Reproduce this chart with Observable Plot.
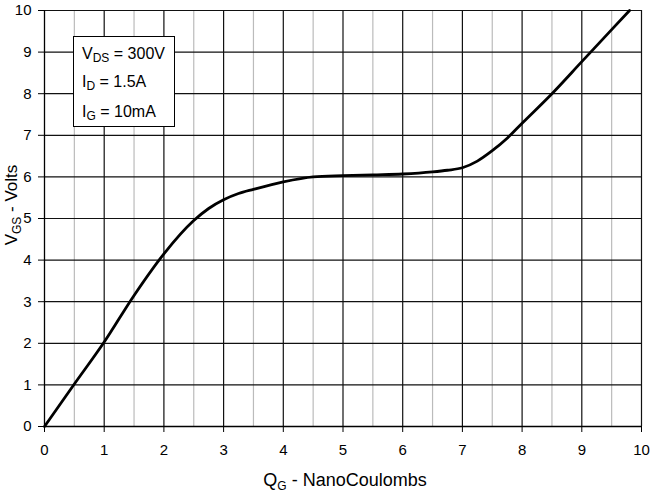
<!DOCTYPE html>
<html>
<head>
<meta charset="utf-8">
<script src="https://cdn.jsdelivr.net/npm/d3@7"></script>
<script src="https://cdn.jsdelivr.net/npm/@observablehq/plot@0.6"></script>
<style>
  html, body { margin: 0; padding: 0; background: #fff; }
  #chart svg { display: block; }
</style>
</head>
<body>
<div id="chart"></div>
<script>
// Data
const qg  = [0, 0.5, 1, 1.5, 2, 2.5, 2.75, 3, 3.25, 3.5, 4, 4.5, 5, 5.5, 6, 6.5, 6.75, 7, 7.25, 7.5, 7.75, 8, 8.5, 9, 9.5, 9.8];
const vgs = [0, 1.02, 2.03, 3.15, 4.15, 4.95, 5.24, 5.45, 5.6, 5.70, 5.88, 6.0, 6.03, 6.05, 6.07, 6.12, 6.16, 6.22, 6.38, 6.63, 6.93, 7.29, 8.0, 8.77, 9.54, 10.0];
const xTicks = [0, 1, 2, 3, 4, 5, 6, 7, 8, 9, 10];
const yTicks = [0, 1, 2, 3, 4, 5, 6, 7, 8, 9, 10];
const xMinor = [0.5, 1.5, 2.5, 3.5, 4.5, 5.5, 6.5, 7.5, 8.5, 9.5];
const legendLines = [
  ["V", "DS", " = 300V"],
  ["I", "D", " = 1.5A"],
  ["I", "G", " = 10mA"]
];

const data = qg.map((q, i) => ({q, v: vgs[i]}));
const FONT = "'Liberation Sans', Arial, Helvetica, sans-serif";

const plot = Plot.plot({
  width: 668,
  height: 493,
  marginLeft: 44,
  marginRight: 27,
  marginTop: 10,
  marginBottom: 67,
  style: {fontFamily: FONT, fontSize: "15px", color: "#000", background: "#fff"},
  x: {domain: [0, 10]},
  y: {domain: [0, 10]},
  marks: [
    Plot.ruleX(xMinor, {stroke: "#bbb", strokeWidth: 1.2}),
    Plot.ruleX(xTicks.filter(d => d > 0), {stroke: "#111", strokeWidth: 1.2}),
    Plot.ruleY(yTicks.filter(d => d > 0), {stroke: "#111", strokeWidth: 1.2}),
    Plot.axisX({ticks: xTicks, tickSize: 6, tickPadding: 12, tickFormat: d => String(d), label: null, stroke: "#000"}),
    Plot.axisY({ticks: yTicks, tickSize: 6, tickPadding: 7, tickFormat: d => String(d), label: null, stroke: "#000"}),
    Plot.ruleX([0], {stroke: "#000", strokeWidth: 1.3}),
    Plot.ruleY([0], {stroke: "#000", strokeWidth: 1.3}),
    Plot.line(data, {x: "q", y: "v", stroke: "#000", strokeWidth: 2.8, curve: "monotone-x"})
  ]
});

document.getElementById("chart").appendChild(plot);

const svg = d3.select(plot);

// X axis label
const xl = svg.append("text")
  .attr("x", 345).attr("y", 486)
  .attr("text-anchor", "middle")
  .style("font-family", FONT).style("font-size", "18px").attr("fill", "#000");
xl.append("tspan").text("Q");
xl.append("tspan").text("G").style("font-size", "12px").attr("dy", 4);
xl.append("tspan").text(" - NanoCoulombs").attr("dy", -4);

// Y axis label
const yl = svg.append("text")
  .attr("transform", "translate(17,205) rotate(-90)")
  .attr("text-anchor", "middle")
  .style("font-family", FONT).style("font-size", "17px").attr("fill", "#000");
yl.append("tspan").text("V");
yl.append("tspan").text("GS").style("font-size", "12px").attr("dy", 4);
yl.append("tspan").text(" - Volts").attr("dy", -4);

// Annotation box
svg.append("rect")
  .attr("x", 73.5).attr("y", 36.5).attr("width", 101).attr("height", 90)
  .attr("fill", "#fff").attr("stroke", "#000").attr("stroke-width", 1);
const baselines = [59, 87, 117];
legendLines.forEach((parts, i) => {
  const t = svg.append("text")
    .attr("x", 82).attr("y", baselines[i])
    .attr("text-anchor", "start")
    .style("font-family", FONT).style("font-size", "16px").attr("fill", "#000");
  t.append("tspan").text(parts[0]);
  t.append("tspan").text(parts[1]).style("font-size", "12px").attr("dy", 3);
  t.append("tspan").text(parts[2]).attr("dy", -3);
});
</script>
</body>
</html>
